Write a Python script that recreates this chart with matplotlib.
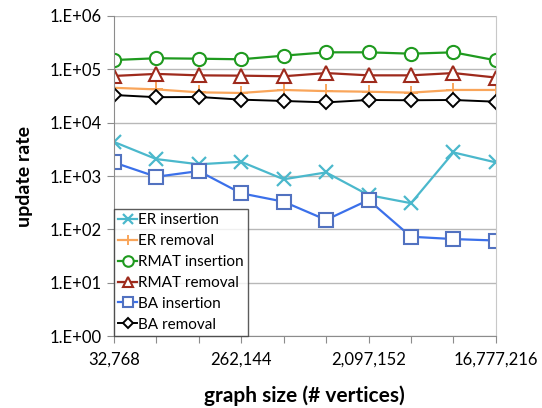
import matplotlib
matplotlib.use('Agg')
import matplotlib.pyplot as plt
from matplotlib.ticker import NullLocator

plt.rcParams['font.family'] = ['Lato', 'DejaVu Sans']

# graph sizes 2^15 .. 2^24
sizes = [32768, 65536, 131072, 262144, 524288, 1048576,
         2097152, 4194304, 8388608, 16777216]
tick_labels = ['32,768', '262,144', '2,097,152', '16,777,216']

er_ins = [4370, 2080, 1660, 1850, 870, 1170, 440, 310, 2770, 1800]
er_rem = [45000, 42000, 37000, 36000, 41000, 39000, 38000, 36500, 41000, 41000]
rmat_ins = [149000, 161000, 158000, 154000, 180000, 208000, 208000, 196000, 208000, 147000]
rmat_rem = [75000, 82000, 77000, 76000, 74000, 85000, 77000, 77000, 85000, 70000]
ba_ins = [1800, 970, 1240, 475, 331, 151, 356, 73, 66, 62]
ba_rem = [33000, 30000, 30300, 27000, 25500, 24000, 26600, 26300, 26600, 24700]

fig = plt.figure(figsize=(5.42, 4.08), dpi=100)
ax = fig.add_axes([0.21, 0.176, 0.705, 0.785])

ms = 9.5
ax.plot(sizes, er_ins, color='#4bb8cc', lw=1.6, marker='x', ms=ms, mew=1.6, label='ER insertion')
ax.plot(sizes, er_rem, color='#f9a55a', lw=1.6, marker='+', ms=ms, mew=1.4, label='ER removal')
ax.plot(sizes, rmat_ins, color='#1f9a1f', lw=1.6, marker='o', ms=ms, mew=1.5, mfc='white', label='RMAT insertion')
ax.plot(sizes, rmat_rem, color='#9e2a1c', lw=1.6, marker='^', ms=ms, mew=1.5, mfc='white', label='RMAT removal')
ax.plot(sizes, ba_ins, color='#3b70ea', lw=1.6, marker='s', ms=ms, mew=1.5, mfc='white',
        mec='#5272c0', label='BA insertion')
ax.plot(sizes, ba_rem, color='black', lw=1.4, marker='D', ms=7, mew=1.4, mfc='white', label='BA removal')

ax.set_xscale('log', base=2)
ax.set_yscale('log')
ax.set_xlim(sizes[0], sizes[-1])
ax.set_ylim(1, 1e6)

ax.set_xticks(sizes)
ax.set_xticklabels([tick_labels[i // 3] if i % 3 == 0 else '' for i in range(len(sizes))])
ax.xaxis.set_minor_locator(NullLocator())
yt = [10.0 ** k for k in range(7)]
ax.set_yticks(yt)
ax.set_yticklabels(['1.E+%02d' % k for k in range(7)])
ax.yaxis.set_minor_locator(NullLocator())

ax.grid(axis='y', color='#b8b8b8', lw=1.0)
ax.set_axisbelow(True)
ax.spines['top'].set_visible(False)
ax.spines['right'].set_color('#c8c8c8')
ax.spines['left'].set_color('#8c8c8c')
ax.spines['bottom'].set_color('#8c8c8c')
ax.tick_params(axis='both', colors='#8c8c8c', labelcolor='black', labelsize=12, length=5)
ax.tick_params(axis='x', pad=6)

ax.set_xlabel('graph size (# vertices)', fontsize=15, fontweight='bold', labelpad=13)
ax.set_ylabel('update rate', fontsize=14, fontweight='bold', labelpad=12)

leg = ax.legend(loc='lower left', bbox_to_anchor=(0, 0), fontsize=11, frameon=True,
                fancybox=False, borderaxespad=0, handlelength=1.2, handletextpad=0.1,
                labelspacing=0.45, borderpad=0.3, markerscale=0.8)
leg.get_frame().set_edgecolor('#333333')
leg.get_frame().set_linewidth(1.0)

fig.savefig('out.png', dpi=100)
